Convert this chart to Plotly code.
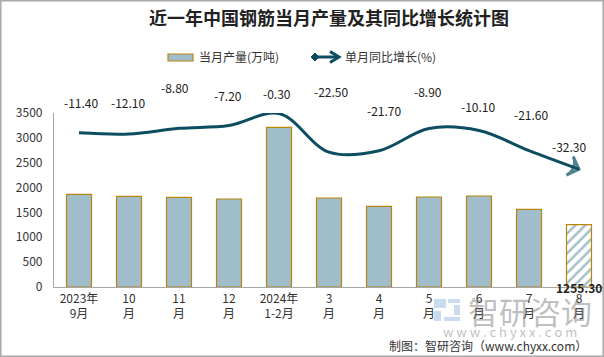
import plotly.graph_objects as go

categories = ["2023年<br>9月", "10<br>月", "11<br>月", "12<br>月", "2024年<br>1-2月",
              "3<br>月", "4<br>月", "5<br>月", "6<br>月", "7<br>月", "8<br>月"]
production = [1864, 1824, 1804, 1770, 3212, 1790, 1623, 1810, 1830, 1562, 1255.30]
growth = [-11.40, -12.10, -8.80, -7.20, -0.30, -22.50, -21.70, -8.90, -10.10, -21.60, -32.30]

# label placement offsets (pixels)
label_dy = [30, 32, 41, 30, 20, 61, 40, 37, 24, 36, 23]
label_dx = [2, -1, -4, -1, -2, 2, 5, -1, -1, 2, -10]

W, H = 604, 357
L, R, T, B = 54, 0, 113, 70
FONT = "Noto Sans CJK SC"
BAR_FILL = "#9fbdca"
BAR_EDGE = "#b8860b"
LINE = "#0d4d62"

x = list(range(len(categories)))
n = len(categories)

fig = go.Figure()
fig.add_trace(go.Bar(
    x=x, y=production, name="当月产量(万吨)", width=0.5,
    marker=dict(color=BAR_FILL, line=dict(color=BAR_EDGE, width=1.2),
                pattern=dict(shape=[""] * (n - 1) + ["/"], fgcolor=BAR_FILL,
                             bgcolor="white", size=7, solidity=0.35,
                             fillmode="replace")),
    yaxis="y", showlegend=False,
))
symbols = ["diamond"] + ["circle"] * (n - 2) + ["arrow-wide-open"]
sizes = [9] + [0] * (n - 2) + [14]
fig.add_trace(go.Scatter(
    x=x, y=growth, name="单月同比增长(%)", mode="lines+markers",
    line=dict(color=LINE, width=3, shape="spline", smoothing=1.0),
    marker=dict(symbol=symbols, size=sizes, color=LINE, angleref="previous",
                line=dict(width=[0] + [0] * (n - 2) + [3], color=LINE)),
    yaxis="y2", showlegend=False,
))

annotations = []
for i, g in enumerate(growth):
    annotations.append(dict(x=i, y=g, yref="y2", text=f"{g:.2f}", showarrow=False,
                            yshift=label_dy[i], xshift=label_dx[i],
                            font=dict(family=FONT, size=12, color="#222")))
annotations.append(dict(x=n - 1, y=0, yref="y", text=f"<b>{production[-1]:.2f}</b>",
                        showarrow=False, yshift=0, xshift=0,
                        font=dict(family=FONT, size=12, color="#222")))

pw = W - L - R
ph = H - T - B
def px(v):
    return (v - L) / pw
def py(v):
    return (H - B - v) / ph

# legend drawn manually
annotations.append(dict(xref="paper", yref="paper", x=px(197), y=py(57), xanchor="left",
                        yanchor="middle", text="当月产量(万吨)", showarrow=False,
                        font=dict(family=FONT, size=12, color="#333")))
annotations.append(dict(xref="paper", yref="paper", x=px(343), y=py(57), xanchor="left",
                        yanchor="middle", text="单月同比增长(%)", showarrow=False,
                        font=dict(family=FONT, size=12, color="#333")))

# watermark and source
WM = "rgba(110,110,110,0.45)"
annotations.append(dict(xref="paper", yref="paper", x=px(530), y=py(310), xanchor="center",
                        yanchor="middle", text="智研咨询", showarrow=False,
                        font=dict(family=FONT, size=31, color=WM)))
annotations.append(dict(xref="paper", yref="paper", x=px(510), y=py(331), xanchor="center",
                        yanchor="middle", text="w w w . c h y x x . c o m", showarrow=False,
                        font=dict(family=FONT, size=13, color=WM)))
annotations.append(dict(xref="paper", yref="paper", x=px(589), y=py(345), xanchor="right",
                        yanchor="middle", text="制图：智研咨询（www.chyxx.com）", showarrow=False,
                        font=dict(family=FONT, size=12, color="#333")))

LOGO = "rgba(160,190,225,0.55)"
def prect(x0, y0, x1, y1, **kw):
    d = dict(type="rect", xref="paper", yref="paper", x0=px(x0), x1=px(x1), y0=py(y1), y1=py(y0))
    d.update(kw)
    return d

def ppath(points, closed=False):
    s = "M " + " L ".join(f"{px(a):.5f},{py(b):.5f}" for a, b in points)
    return s + (" Z" if closed else "")

shapes = [
    prect(0.8, 0.8, 603.2, 356.2, line=dict(color="#a9a9a9", width=1.5),
          fillcolor="rgba(0,0,0,0)", layer="above"),
    # logo approximation
    prect(434, 299, 446, 308, line=dict(width=0), fillcolor=LOGO),
    prect(448, 299, 460, 303, line=dict(width=0), fillcolor=LOGO),
    prect(434, 311, 441, 321, line=dict(width=0), fillcolor=LOGO),
    prect(444, 317, 460, 321, line=dict(width=0), fillcolor=LOGO),
    prect(454, 305, 460, 315, line=dict(width=0), fillcolor=LOGO),
    # legend: bar icon
    prect(168, 54, 193, 61, line=dict(color=BAR_EDGE, width=1.2), fillcolor=BAR_FILL),
    # legend: line icon
    dict(type="line", xref="paper", yref="paper", x0=px(314), x1=px(338), y0=py(57), y1=py(57),
         line=dict(color=LINE, width=3)),
    dict(type="path", xref="paper", yref="paper",
         path=ppath([(311, 57), (315, 53), (319, 57), (315, 61)], closed=True),
         line=dict(color=LINE, width=1), fillcolor=LINE),
    dict(type="path", xref="paper", yref="paper",
         path=ppath([(330, 51.5), (339, 57), (330, 62.5)]),
         line=dict(color=LINE, width=3), fillcolor="rgba(0,0,0,0)"),
]

fig.update_layout(
    width=W, height=H,
    margin=dict(l=L, r=R, t=T, b=B),
    paper_bgcolor="white", plot_bgcolor="white",
    title=dict(text="<b>近一年中国钢筋当月产量及其同比增长统计图</b>", x=0.5, xref="paper",
               xanchor="center", y=1 - 19 / H, yanchor="middle",
               font=dict(family=FONT, size=18, color="#222")),
    showlegend=False,
    xaxis=dict(tickmode="array", tickvals=x, ticktext=categories, range=[-0.5, n - 0.5],
               showline=True, linecolor="#a6a6a6", linewidth=1.2, ticks="", showgrid=False,
               zeroline=False, tickfont=dict(family=FONT, size=12, color="#333")),
    yaxis=dict(range=[0, 3500], dtick=500, showline=True, linecolor="#a6a6a6", linewidth=1.2,
               showgrid=False, zeroline=False, ticks="", ticklabelstandoff=8,
               tickfont=dict(family=FONT, size=12, color="#333")),
    yaxis2=dict(range=[-100, 0], overlaying="y", side="right", visible=False),
    annotations=annotations,
    shapes=shapes,
    bargap=0.5,
)

fig.write_html("out.html", config={"displayModeBar": False},
               post_script="document.body.style.margin='0';document.body.style.overflow='hidden';")
